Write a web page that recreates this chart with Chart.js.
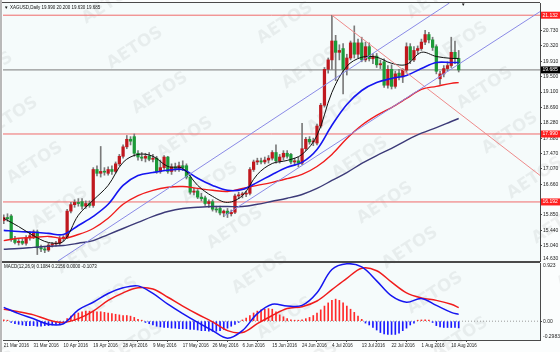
<!DOCTYPE html>
<html>
<head>
<meta charset="utf-8">
<script src="https://cdn.jsdelivr.net/npm/chart.js@4.4.1/dist/chart.umd.min.js"></script>
<style>
  html, body { margin: 0; padding: 0; background: #ffffff; }
  #wrap { position: relative; width: 560px; height: 352px; overflow: hidden; background: #fbfdfd; }
  #priceChart { position: absolute; left: 0; top: 0; }
  #macdChart { position: absolute; left: 0; top: 262px; }
  #edge { position: absolute; left: 0; top: 0; width: 2px; height: 352px; background: #b9b9b9; }
</style>
</head>
<body>
<div id="wrap">
  <canvas id="priceChart" width="560" height="262"></canvas>
  <canvas id="macdChart" width="560" height="90"></canvas>
  <div id="edge"></div>
</div>
<script>
/* XAGUSD daily, 21 Mar 2016 - 12 Aug 2016 (bars include Sundays, 8 bars per date label) */

const dateLabels = ['21 Mar 2016', '31 Mar 2016', '10 Apr 2016', '19 Apr 2016', '28 Apr 2016', '9 May 2016',
    '17 May 2016', '26 May 2016', '6 Jun 2016', '15 Jun 2016', '24 Jun 2016', '4 Jul 2016',
    '13 Jul 2016', '22 Jul 2016', '1 Aug 2016', '10 Aug 2016'];
const barsPerLabel = 8;

const opens = [15.70, 15.78, 15.82, 15.20, 15.12, 15.15, 15.10, 15.25, 15.28, 15.40,
    14.98, 14.95, 14.92, 15.05, 15.08, 15.10, 15.22, 15.26, 15.95, 16.12,
    16.18, 16.20, 16.08, 16.15, 16.10, 17.05, 16.95, 17.00, 16.95, 17.05,
    17.00, 17.20, 17.40, 17.65, 17.85, 17.92, 17.48, 17.38, 17.35, 17.40,
    17.32, 17.35, 17.00, 17.10, 17.38, 17.00, 17.12, 17.08, 17.15, 17.15,
    16.85, 16.45, 16.48, 16.32, 16.30, 16.15, 16.20, 16.00, 16.02, 15.90,
    15.95, 15.88, 15.92, 16.35, 16.38, 16.40, 16.42, 17.05, 17.25, 17.28,
    17.25, 17.30, 17.35, 17.50, 17.28, 17.38, 17.48, 17.45, 17.25, 17.28,
    17.22, 17.60, 17.85, 17.78, 17.75, 18.20, 18.75, 19.70, 19.95, 20.45,
    20.15, 20.25, 19.70, 20.00, 20.40, 20.10, 20.40, 19.95, 20.30, 19.98,
    20.05, 19.82, 19.90, 19.28, 19.70, 19.25, 19.60, 19.50, 19.68, 20.30,
    19.95, 20.20, 20.25, 20.42, 20.62, 20.48, 20.30, 19.45, 19.58, 19.72,
    19.80, 20.15, 19.99];
const highs = [15.85, 15.88, 15.86, 15.28, 15.20, 15.22, 15.30, 15.40, 15.45, 15.45,
    15.05, 15.02, 15.10, 15.12, 15.15, 15.28, 15.30, 16.00, 16.18, 16.25,
    16.28, 16.28, 16.22, 16.22, 17.10, 17.15, 17.66, 17.10, 17.12, 17.15,
    17.25, 17.45, 17.70, 17.95, 17.92, 17.99, 17.55, 17.50, 17.48, 17.50,
    17.45, 17.40, 17.30, 17.42, 17.40, 17.20, 17.22, 17.25, 17.28, 17.20,
    16.90, 16.55, 16.52, 16.42, 16.35, 16.25, 16.25, 16.08, 16.08, 15.98,
    16.02, 15.98, 16.40, 16.45, 16.45, 16.48, 17.10, 17.30, 17.35, 17.35,
    17.38, 17.42, 17.55, 17.70, 17.45, 17.55, 17.55, 17.48, 17.35, 17.38,
    18.27, 17.90, 17.92, 17.88, 18.25, 18.80, 19.75, 20.00, 21.13, 20.60,
    20.35, 20.38, 20.10, 20.45, 20.85, 20.50, 20.55, 20.42, 20.40, 20.12,
    20.12, 19.95, 19.98, 19.80, 19.82, 19.65, 19.70, 19.72, 20.40, 20.38,
    20.30, 20.32, 20.50, 20.73, 20.68, 20.55, 20.35, 19.65, 19.80, 19.90,
    20.55, 20.45, 20.20];
const lows = [15.62, 15.68, 15.15, 15.08, 15.05, 15.06, 15.05, 15.18, 15.22, 14.80,
    14.88, 14.85, 14.88, 15.00, 15.02, 15.05, 15.15, 15.22, 15.90, 16.05,
    16.08, 16.00, 16.02, 16.05, 16.05, 16.88, 16.85, 16.90, 16.90, 16.92,
    16.95, 17.15, 17.35, 17.60, 17.70, 17.40, 17.30, 17.28, 17.25, 17.28,
    17.25, 16.95, 16.95, 17.05, 16.95, 16.92, 17.00, 17.00, 17.02, 16.80,
    16.40, 16.38, 16.28, 16.22, 16.10, 16.05, 15.95, 15.92, 15.85, 15.80,
    15.78, 15.82, 15.88, 16.28, 16.30, 16.33, 16.38, 17.00, 17.18, 17.20,
    17.20, 17.22, 17.30, 17.22, 17.22, 17.30, 17.35, 17.20, 17.15, 17.12,
    17.18, 17.55, 17.72, 17.68, 17.70, 18.15, 18.70, 19.60, 19.70, 19.40,
    19.95, 19.05, 19.55, 19.95, 20.00, 20.00, 19.90, 19.90, 19.92, 19.85,
    19.75, 19.72, 19.22, 19.20, 19.18, 19.20, 19.42, 19.35, 19.60, 19.85,
    19.90, 20.10, 20.20, 20.35, 20.40, 20.20, 19.58, 19.30, 19.50, 19.65,
    19.75, 19.85, 19.63];
const closes = [15.78, 15.75, 15.20, 15.12, 15.15, 15.10, 15.25, 15.30, 15.40, 14.98,
    14.95, 14.92, 15.05, 15.08, 15.10, 15.22, 15.26, 15.95, 16.12, 16.18,
    16.15, 16.08, 16.15, 16.10, 17.05, 16.95, 17.00, 16.98, 17.05, 17.00,
    17.20, 17.40, 17.65, 17.85, 17.80, 17.48, 17.38, 17.35, 17.40, 17.32,
    17.35, 17.00, 17.10, 17.38, 17.00, 17.12, 17.08, 17.15, 17.10, 16.85,
    16.45, 16.48, 16.32, 16.28, 16.15, 16.20, 16.00, 15.98, 15.90, 15.95,
    15.88, 15.92, 16.35, 16.38, 16.40, 16.42, 17.05, 17.25, 17.28, 17.25,
    17.30, 17.35, 17.50, 17.28, 17.38, 17.48, 17.40, 17.25, 17.28, 17.22,
    17.60, 17.85, 17.78, 17.80, 18.20, 18.75, 19.70, 19.95, 20.45, 20.15,
    20.20, 19.70, 20.00, 20.40, 20.10, 20.40, 19.95, 20.30, 19.98, 20.05,
    19.82, 19.85, 19.28, 19.70, 19.25, 19.58, 19.50, 19.68, 20.30, 19.95,
    20.20, 20.25, 20.42, 20.62, 20.48, 20.28, 19.65, 19.58, 19.72, 19.80,
    20.15, 19.99, 19.685];

// moving averages and MACD every 4 bars
const sampleBars = [0, 4, 8, 12, 16, 20, 24, 28, 32, 36, 40, 44, 48, 52, 56, 60,
    64, 68, 72, 76, 80, 84, 88, 92, 96, 100, 104, 108, 112, 116, 120, 122];
const maFast = [15.76, 15.54, 15.30, 15.12, 15.15, 15.84, 16.24, 16.63, 17.24, 17.45, 17.40, 17.13, 17.08, 16.63, 16.34, 16.18,
    16.36, 16.92, 17.21, 17.29, 17.45, 17.95, 19.09, 19.78, 20.02, 20.02, 19.86, 19.83, 20.15, 20.04, 19.99, 19.99];
const maBlue = [15.44, 15.41, 15.39, 15.36, 15.33, 15.57, 15.81, 16.13, 16.63, 16.89, 16.97, 17.03, 17.05, 16.82, 16.63, 16.50,
    16.52, 16.71, 16.92, 17.11, 17.24, 17.58, 18.22, 18.77, 19.14, 19.35, 19.46, 19.54, 19.72, 19.88, 19.88, 19.88];
const maRed = [15.17, 15.23, 15.25, 15.28, 15.23, 15.33, 15.49, 15.76, 16.13, 16.36, 16.50, 16.58, 16.60, 16.55, 16.50, 16.47,
    16.55, 16.63, 16.71, 16.81, 16.92, 17.13, 17.45, 17.87, 18.22, 18.48, 18.69, 18.93, 19.17, 19.25, 19.33, 19.35];
const maSlow = [14.94, 14.96, 14.99, 15.02, 15.04, 15.10, 15.17, 15.33, 15.49, 15.65, 15.81, 15.94, 16.02, 16.05, 16.07, 16.07,
    16.07, 16.13, 16.21, 16.29, 16.39, 16.55, 16.76, 16.97, 17.21, 17.42, 17.61, 17.82, 18.01, 18.16, 18.32, 18.40];

const macdLine = [0.22, 0.12, 0.04, -0.05, -0.04, 0.18, 0.30, 0.44, 0.53, 0.56, 0.44, 0.27, 0.12, -0.02, -0.15, -0.27,
    -0.15, 0.12, 0.27, 0.24, 0.25, 0.45, 0.82, 0.91, 0.86, 0.64, 0.40, 0.30, 0.36, 0.25, 0.14, 0.1084];
const signalLine = [0.19, 0.15, 0.10, 0.02, -0.02, 0.04, 0.16, 0.33, 0.45, 0.53, 0.51, 0.38, 0.24, 0.11, -0.01, -0.15,
    -0.18, -0.04, 0.09, 0.20, 0.23, 0.32, 0.50, 0.68, 0.84, 0.80, 0.62, 0.45, 0.37, 0.33, 0.27, 0.2156];
const histogram = [0.02, 0.01,
    -0.02, -0.04, -0.05, -0.06, -0.07, -0.07, -0.07, -0.08, -0.08, -0.07, -0.07, -0.06, -0.05, -0.04, -0.02,
    0.04, 0.08, 0.11, 0.13, 0.15, 0.16, 0.16, 0.16, 0.15, 0.15, 0.14, 0.13, 0.12, 0.11, 0.10, 0.09, 0.09, 0.08, 0.06, 0.03, 0.01,
    -0.02, -0.04, -0.06, -0.08, -0.09, -0.10, -0.10, -0.11, -0.11, -0.12, -0.12, -0.12, -0.13, -0.13, -0.14, -0.15, -0.15,
    -0.16, -0.16, -0.16, -0.15, -0.13, -0.11, -0.08, -0.05, -0.02,
    0.02, 0.05, 0.09, 0.13, 0.16, 0.18, 0.19, 0.20, 0.19,
    0.15, 0.10, 0.07, 0.04, 0.02, 0.01, 0.01, 0.02, 0.04, 0.06, 0.09, 0.13, 0.18, 0.24, 0.29, 0.33, 0.35, 0.33,
    0.29, 0.24, 0.19, 0.14, 0.08, 0.03,
    -0.03, -0.06, -0.10, -0.14, -0.18, -0.20, -0.21, -0.21, -0.21, -0.19, -0.15, -0.11, -0.06, -0.03,
    0.01, 0.02, 0.02, 0.01,
    -0.02, -0.07, -0.09, -0.10, -0.10, -0.10, -0.10, -0.1073];

// price axis
const priceTicks = [15.040, 15.440, 15.850, 16.660, 17.070, 17.470, 17.880, 18.280, 18.690, 19.100, 19.500, 19.910, 20.320, 20.730];
const priceMin = 14.630;
const priceMax = 21.455;
const macdMin = -0.2983;
const macdMax = 0.923;
const macdTicks = [0];

// drawn objects: horizontal levels, bid, channel and resistance lines [bar, price]
const levelLines = [21.132, 17.990, 16.192];
const bidPrice = 19.685;
const channelUpper = [[14.55, 14.63], [119.5, 21.455]];
const channelLower = [[59.3, 15.836], [143.8, 21.227]];
const resistanceLine = [[88, 21.132], [143.8, 16.894]];

const X_MIN = -0.2;
const X_MAX = 143.8;
const FONT = '"Liberation Sans", Arial, sans-serif';

const COLORS = {
    bull: '#c0181e',
    bear: '#1c9a38',
    wick: '#7a7a7a',
    fast: '#111111',
    blue: '#1515f0',
    red: '#f01c1c',
    slow: '#3c3a78',
    channel: '#8a8ae6',
    level: '#f06a6a',
    resist: '#ee8a8a',
    frame: '#4a4a4a'
};

Chart.defaults.font.family = FONT;

const barIndex = opens.map((_, i) => i);
const toPoints = (xs, ys) => xs.map((x, k) => ({ x: x, y: ys[k] }));
const segment = (pair) => pair.map(p => ({ x: p[0], y: p[1] }));
const flatLine = (v) => [{ x: X_MIN, y: v }, { x: X_MAX, y: v }];

const lastBar = opens.length - 1;
const symbolTitle = 'XAGUSD,Daily ' + [opens[lastBar], highs[lastBar], lows[lastBar]].map(v => v.toFixed(3)).join(' ') +
    ' ' + closes[lastBar].toFixed(3);
const macdTitle = 'MACD(12,26,9) ' + macdLine[macdLine.length - 1].toFixed(4) + ' ' +
    signalLine[signalLine.length - 1].toFixed(4) + ' 0.0000 ' + histogram[lastBar].toFixed(4);

/**
 * Faint diagonal broker watermark
 */
const drawWatermark = (chart, offsetY) => {
    const ctx = chart.ctx;
    ctx.save();
    ctx.font = 'bold 17px "DejaVu Sans", sans-serif';
    ctx.fillStyle = 'rgba(0, 0, 0, 0.055)';
    ctx.textAlign = 'center';
    ctx.textBaseline = 'middle';
    for (let m = -6; m <= 8; m++) {
        for (let n = -2; n <= 6; n++) {
            const x = 160 + m * 25 + n * 125;
            const y = 93 + m * 45 - n * 70 - offsetY;
            if (x < -60 || x > 620 || y < -40 || y > chart.height + 40) continue;
            ctx.save();
            ctx.translate(x, y);
            ctx.rotate(-0.58);
            ctx.fillText('AETOS', 0, 0);
            ctx.restore();
        }
    }
    ctx.restore();
};

const fillArea = (chart) => {
    const { ctx, chartArea: a } = chart;
    ctx.save();
    ctx.fillStyle = '#f5fbfb';
    ctx.fillRect(a.left, a.top, a.right - a.left, a.bottom - a.top);
    ctx.restore();
};

const pricePanel = {
    id: 'pricePanel',
    beforeDraw(chart) {
        fillArea(chart);
        drawWatermark(chart, 0);
    },
    afterDraw(chart) {
        const { ctx, chartArea: a, scales: { y } } = chart;
        ctx.save();
        ctx.strokeStyle = COLORS.frame;
        ctx.lineWidth = 1;
        ctx.beginPath();
        ctx.moveTo(0, a.top - 0.5);
        ctx.lineTo(a.right, a.top - 0.5);
        ctx.moveTo(0, a.bottom + 0.5);
        ctx.lineTo(a.right, a.bottom + 0.5);
        ctx.stroke();

        ctx.font = '4.5px ' + FONT;
        ctx.textBaseline = 'middle';
        ctx.textAlign = 'left';
        ctx.fillStyle = '#111';
        ctx.fillText('\u25BC', 4, 7.5);
        ctx.fillText(symbolTitle, 10, 7.5);
        ctx.fillText('\u25BC', 461, 4.5);

        ctx.font = '5px ' + FONT;
        levelLines.forEach(v => {
            const py = y.getPixelForValue(v);
            ctx.fillStyle = '#ff1f1f';
            ctx.fillRect(a.right + 1, py - 3.5, 19, 7);
            ctx.fillStyle = '#ffffff';
            ctx.fillText(v.toFixed(3), a.right + 2.5, py);
        });
        const by = y.getPixelForValue(bidPrice);
        ctx.fillStyle = '#000000';
        ctx.fillRect(a.right + 1, by - 3.5, 19, 7);
        ctx.fillStyle = '#ffffff';
        ctx.fillText(bidPrice.toFixed(3), a.right + 2.5, by);

        ctx.fillStyle = '#222';
        ctx.fillText(priceMin.toFixed(3), a.right + 3, a.bottom - 2);
        ctx.restore();
    }
};

const macdPanel = {
    id: 'macdPanel',
    beforeDraw(chart) {
        fillArea(chart);
        drawWatermark(chart, 262);
    },
    afterDraw(chart) {
        const { ctx, chartArea: a } = chart;
        ctx.save();
        ctx.strokeStyle = COLORS.frame;
        ctx.lineWidth = 1;
        ctx.beginPath();
        ctx.moveTo(0, a.top - 0.5);
        ctx.lineTo(a.right, a.top - 0.5);
        ctx.stroke();

        ctx.font = '4.5px ' + FONT;
        ctx.textBaseline = 'middle';
        ctx.textAlign = 'left';
        ctx.fillStyle = '#111';
        ctx.fillText(macdTitle, 4, 4.5);

        ctx.font = '5px ' + FONT;
        ctx.fillStyle = '#222';
        ctx.fillText(String(macdMax), a.right + 3, a.top + 3);
        ctx.fillText(String(macdMin), a.right + 3, a.bottom - 3);
        ctx.restore();
    }
};

const lineSet = (data, color, width, order, extra) => Object.assign({
    type: 'line',
    data: data,
    borderColor: color,
    borderWidth: width,
    pointRadius: 0,
    fill: false,
    tension: 0,
    order: order
}, extra || {});

const axisFont = { size: 5, family: FONT };

/**
 * Price panel: candles, moving averages and drawn lines
 */
const createPriceChart = () => {
    const ctx = document.getElementById('priceChart').getContext('2d');
    return new Chart(ctx, {
        type: 'bar',
        data: {
            datasets: [
                ...levelLines.map(v => lineSet(flatLine(v), COLORS.level, 1, 20)),
                lineSet(flatLine(bidPrice), '#7a7a7a', 1, 19),
                {
                    data: barIndex.map(i => ({ x: i, y: [lows[i], highs[i]] })),
                    backgroundColor: COLORS.wick,
                    barThickness: 1,
                    grouped: false,
                    order: 12
                },
                {
                    data: barIndex.map(i => ({ x: i, y: [opens[i], closes[i]] })),
                    backgroundColor: barIndex.map(i => closes[i] >= opens[i] ? COLORS.bull : COLORS.bear),
                    barThickness: 2.6,
                    minBarLength: 1,
                    grouped: false,
                    order: 11
                },
                lineSet(toPoints(sampleBars, maSlow), COLORS.slow, 1.4, 9, { tension: 0.35 }),
                lineSet(toPoints(sampleBars, maRed), COLORS.red, 1.4, 8, { tension: 0.35 }),
                lineSet(toPoints(sampleBars, maBlue), COLORS.blue, 1.6, 7, { tension: 0.35 }),
                lineSet(toPoints(sampleBars, maFast), COLORS.fast, 1, 6, { tension: 0.35 }),
                lineSet(segment(channelUpper), COLORS.channel, 1, 3),
                lineSet(segment(channelLower), COLORS.channel, 1, 3),
                lineSet(segment(resistanceLine), COLORS.resist, 1, 3)
            ]
        },
        options: {
            responsive: false,
            animation: false,
            events: [],
            layout: { padding: { left: 3, top: 3, right: 0, bottom: 1 } },
            scales: {
                x: { type: 'linear', min: X_MIN, max: X_MAX, offset: false, display: false },
                y: {
                    position: 'right',
                    min: priceMin,
                    max: priceMax,
                    afterBuildTicks: (scale) => { scale.ticks = priceTicks.map(v => ({ value: v })); },
                    afterFit: (scale) => { scale.width = 20; scale.paddingTop = 0; scale.paddingBottom = 0; },
                    grid: { drawOnChartArea: false, drawTicks: true, tickLength: 2, color: COLORS.frame },
                    border: { display: true, color: COLORS.frame },
                    ticks: {
                        autoSkip: false,
                        padding: 1,
                        color: '#222',
                        font: axisFont,
                        callback: (value) => Number(value).toFixed(3)
                    }
                }
            },
            plugins: { legend: { display: false }, tooltip: { enabled: false } }
        },
        plugins: [pricePanel]
    });
};

/**
 * MACD panel with date axis
 */
const createMacdChart = () => {
    const ctx = document.getElementById('macdChart').getContext('2d');
    return new Chart(ctx, {
        type: 'bar',
        data: {
            datasets: [
                lineSet(flatLine(0), '#9a9a9a', 1, 10, { borderDash: [1, 2] }),
                {
                    data: barIndex.map(i => ({ x: i, y: histogram[i] })),
                    backgroundColor: histogram.map(v => v >= 0 ? '#ff2a2a' : '#1a1aff'),
                    barThickness: 1,
                    minBarLength: 1,
                    grouped: false,
                    order: 9
                },
                lineSet(toPoints(sampleBars, signalLine), COLORS.red, 1.5, 5, { tension: 0.35 }),
                lineSet(toPoints(sampleBars, macdLine), COLORS.blue, 1.5, 4, { tension: 0.35 })
            ]
        },
        options: {
            responsive: false,
            animation: false,
            events: [],
            layout: { padding: { left: 3, top: 1, right: 0, bottom: 0 } },
            scales: {
                x: {
                    type: 'linear',
                    min: X_MIN,
                    max: X_MAX,
                    offset: false,
                    afterBuildTicks: (scale) => { scale.ticks = dateLabels.map((d, k) => ({ value: k * barsPerLabel })); },
                    afterFit: (scale) => { scale.height = 12; scale.paddingLeft = 0; scale.paddingRight = 0; },
                    grid: { drawOnChartArea: false, drawTicks: true, tickLength: 2, color: COLORS.frame },
                    border: { display: true, color: COLORS.frame },
                    ticks: {
                        autoSkip: false,
                        maxRotation: 0,
                        align: 'start',
                        padding: 1,
                        color: '#222',
                        font: { size: 4.5, family: FONT },
                        callback: (value, index) => dateLabels[index]
                    }
                },
                y: {
                    position: 'right',
                    min: macdMin,
                    max: macdMax,
                    afterBuildTicks: (scale) => { scale.ticks = macdTicks.map(v => ({ value: v })); },
                    afterFit: (scale) => { scale.width = 20; scale.paddingTop = 0; scale.paddingBottom = 0; },
                    grid: { drawOnChartArea: false, drawTicks: true, tickLength: 2, color: COLORS.frame },
                    border: { display: true, color: COLORS.frame },
                    ticks: {
                        autoSkip: false,
                        padding: 1,
                        color: '#222',
                        font: axisFont,
                        callback: (value) => Number(value).toFixed(2)
                    }
                }
            },
            plugins: { legend: { display: false }, tooltip: { enabled: false } }
        },
        plugins: [macdPanel]
    });
};

createPriceChart();
createMacdChart();
</script>
</body>
</html>
